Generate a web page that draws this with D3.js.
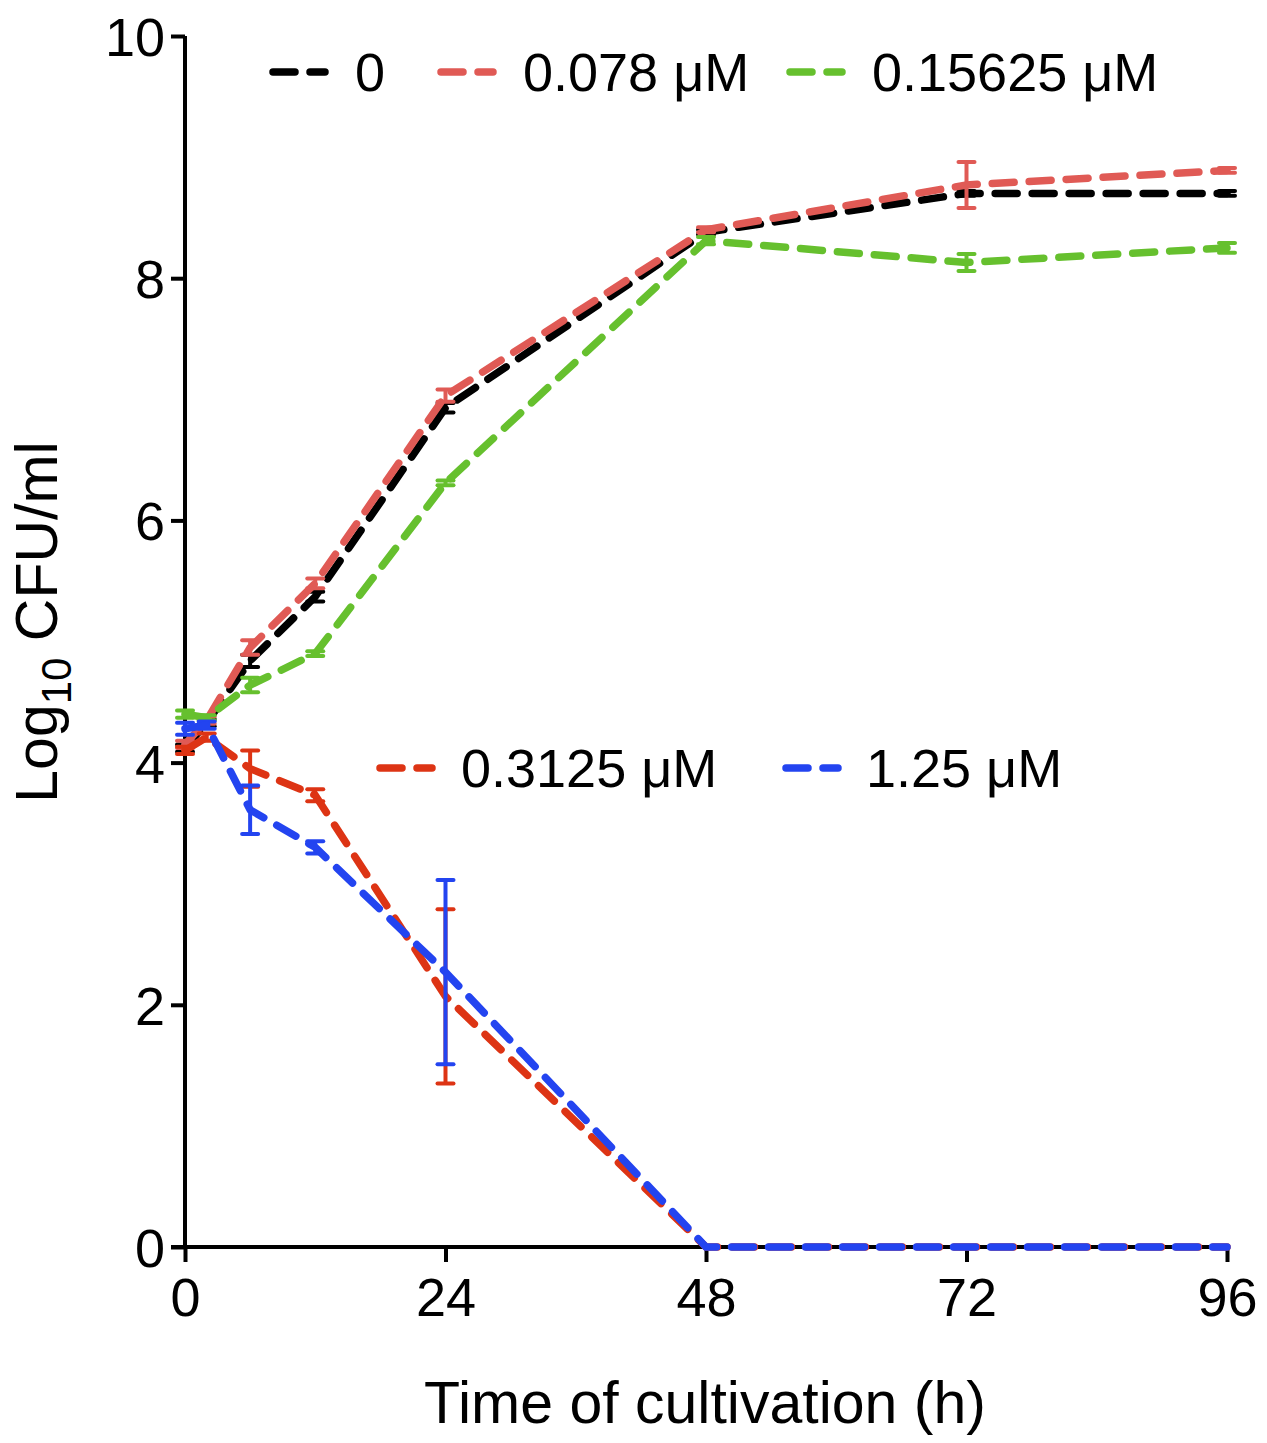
<!DOCTYPE html>
<html><head><meta charset="utf-8">
<script src="https://cdn.jsdelivr.net/npm/d3@7"></script>
<style>body{margin:0;background:#fff}text{font-family:"Liberation Sans",Arial,sans-serif;fill:#000}</style>
</head><body><svg id="c" width="1267" height="1443"></svg>
<script>
const times = [0, 2, 6, 12, 24, 48, 72, 96];
const seriesNames = ["0", "0.078 μM", "0.15625 μM", "0.3125 μM", "1.25 μM"];
const seriesColors = ["#000000", "#E05A55", "#66C02E", "#DD3414", "#2344F0"];
const v0      = [4.12, 4.33, 4.84, 5.37, 6.93, 8.38, 8.70, 8.70];
const e0      = [0.03, 0.03, 0.05, 0.04, 0.04, 0.02, 0.02, 0.02];
const v078    = [4.15, 4.35, 4.95, 5.48, 7.03, 8.40, 8.77, 8.89];
const e078    = [0.03, 0.03, 0.06, 0.04, 0.05, 0.02, 0.19, 0.02];
const v15625  = [4.40, 4.37, 4.64, 4.90, 6.31, 8.31, 8.13, 8.25];
const e15625  = [0.03, 0.02, 0.06, 0.02, 0.02, 0.03, 0.07, 0.04];
const v3125   = [4.10, 4.21, 3.95, 3.73, 2.07, 0, 0, 0];
const e3125   = [0.03, 0.03, 0.15, 0.05, 0.72, 0, 0, 0];
const v125    = [4.28, 4.31, 3.61, 3.30, 2.27, 0, 0, 0];
const e125    = [0.05, 0.03, 0.20, 0.05, 0.76, 0, 0, 0];
const xTicks = [0, 24, 48, 72, 96];
const yTicks = [0, 2, 4, 6, 8, 10];

const values = [v0, v078, v15625, v3125, v125];
const errors = [e0, e078, e15625, e3125, e125];

const svg = d3.select("#c");
const x = d3.scaleLinear().domain([0, 96]).range([185, 1227]);
const y = d3.scaleLinear().domain([0, 10]).range([1247, 36]);

// axes
const xa = svg.append("g").attr("transform", `translate(0,${y(0)})`)
  .call(d3.axisBottom(x).tickValues(xTicks).tickSize(15).tickPadding(8).tickSizeOuter(0));
const ya = svg.append("g").attr("transform", `translate(${x(0)},0)`)
  .call(d3.axisLeft(y).tickValues(yTicks).tickSize(14).tickPadding(6).tickSizeOuter(0));
[xa, ya].forEach(a => {
  a.selectAll("path,line").attr("stroke", "#000").attr("stroke-width", 4);
  a.selectAll("text").style("font-size", "54px").attr("fill", "#000");
});
xa.selectAll("text").attr("dy", "0.85em");
ya.selectAll("text").attr("dy", "0.36em");
xa.select("path").attr("d", `M${x(0)-14},0H${x(96)}`);
ya.select("path").attr("d", `M0,${y(0)}V${y(10)}`);

// axis titles
svg.append("text").attr("x", 705).attr("y", 1423).attr("text-anchor", "middle")
  .style("font-size", "59px").text("Time of cultivation (h)");
const yt = svg.append("text").attr("transform", `translate(57,622) rotate(-90)`)
  .attr("text-anchor", "middle").style("font-size", "59px");
yt.append("tspan").text("Log");
yt.append("tspan").attr("dy", 14).style("font-size", "42px").text("10");
yt.append("tspan").attr("dy", -14).text(" CFU/ml");

const line = d3.line().x((d, i) => x(times[i])).y(d => y(d));
const dash = "22,15";

values.forEach((vals, s) => {
  const col = seriesColors[s];
  const g = svg.append("g");
  // error bars
  vals.forEach((v, i) => {
    const e = errors[s][i];
    if (e <= 0) return;
    const cx = x(times[i]);
    g.append("line").attr("x1", cx).attr("x2", cx).attr("y1", y(v - e)).attr("y2", y(v + e))
      .attr("stroke", col).attr("stroke-width", 4);
    [v - e, v + e].forEach(yy => g.append("line").attr("x1", cx - 8).attr("x2", cx + 8)
      .attr("y1", y(yy)).attr("y2", y(yy)).attr("stroke", col).attr("stroke-width", 4)
      .attr("stroke-linecap", "round"));
  });
  g.append("path").attr("d", line(vals)).attr("fill", "none").attr("stroke", col)
    .attr("stroke-width", 7.5).attr("stroke-dasharray", dash).attr("stroke-linecap", "round");
});

// legend
const legendPos = [[273, 72], [441, 72], [790, 72], [380, 768], [786, 768]];
const legendText = [355, 523, 872, 461, 866];
seriesNames.forEach((name, s) => {
  const [lx, ly] = legendPos[s];
  svg.append("line").attr("x1", lx).attr("x2", lx + 52).attr("y1", ly).attr("y2", ly)
    .attr("stroke", seriesColors[s]).attr("stroke-width", 7.5)
    .attr("stroke-dasharray", dash).attr("stroke-linecap", "round");
  svg.append("text").attr("x", legendText[s]).attr("y", ly).attr("dy", "0.36em")
    .style("font-size", "54px").text(name);
});
</script></body></html>
